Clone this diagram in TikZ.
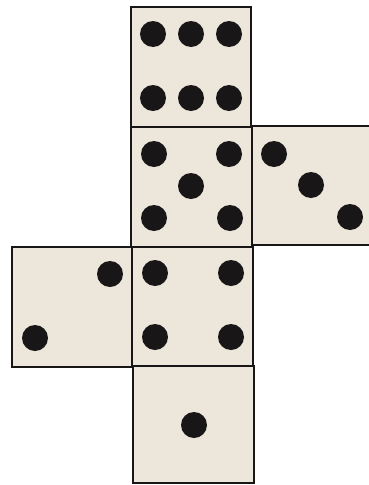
\documentclass[tikz,border=0pt]{standalone}
\usepackage{xcolor}

\definecolor{facebg}{RGB}{237,230,218}
\definecolor{pipcol}{RGB}{24,22,22}

\begin{document}
\begin{tikzpicture}[x=1pt,y=-1pt,
  face/.style={draw=pipcol,line width=2.6pt,fill=facebg,line join=miter},
  pip/.style={fill=pipcol}]
  \useasboundingbox (0,0) rectangle (368,485);
  % faces of the net
  \draw[face] (131,7) rectangle (251,127);
  \draw[face] (131,127) rectangle (252,247);
  \draw[face] (252,126) rectangle (375,245);
  \draw[face] (12,247) rectangle (132,367);
  \draw[face] (132,247) rectangle (253,366);
  \draw[face] (133,366) rectangle (254,483);
  % six
  \foreach \x in {153,191,229}
    \foreach \y in {34,98}
      \fill[pip] (\x,\y) circle (13);
  % five
  \fill[pip] (154,154) circle (13);
  \fill[pip] (229,154) circle (13);
  \fill[pip] (191,186) circle (13);
  \fill[pip] (154,218) circle (13);
  \fill[pip] (230,218) circle (13);
  % three
  \fill[pip] (274,154) circle (13);
  \fill[pip] (311,185) circle (13);
  \fill[pip] (350,217) circle (13);
  % two
  \fill[pip] (110,274) circle (13);
  \fill[pip] (35,338) circle (13);
  % four
  \fill[pip] (155,273) circle (13);
  \fill[pip] (231,273) circle (13);
  \fill[pip] (155,337) circle (13);
  \fill[pip] (231,337) circle (13);
  % one
  \fill[pip] (194,425) circle (13);
\end{tikzpicture}
\end{document}
